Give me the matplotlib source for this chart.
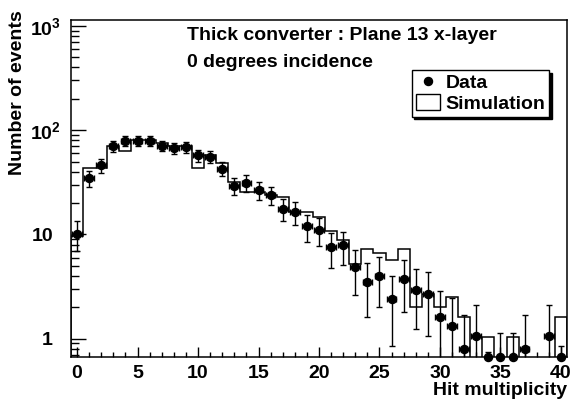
import numpy as np
import matplotlib
matplotlib.use("Agg")
import matplotlib.pyplot as plt
from matplotlib.lines import Line2D
from matplotlib.patches import Rectangle

plt.rcParams['font.family'] = ['Liberation Sans', 'DejaVu Sans']
plt.rcParams['font.weight'] = 'bold'
plt.rcParams['mathtext.fontset'] = 'custom'
plt.rcParams['mathtext.bf'] = 'Liberation Sans:bold'
plt.rcParams['mathtext.rm'] = 'Liberation Sans:bold'

# hit multiplicity bins 0..40
bins = np.arange(0, 41)

# data points (normalised counts); nan = no entry
data = [10.2, 34.5, 46, 70.6, 79, 79, 79, 71, 67.6, 69,
        57.5, 55.4, 42.8, 29.3, 31.3, 26.7, 23.9, 17.7, 16.3, 12.0,
        11.0, 7.55, 7.84, 4.85, 3.48, 4.03, 2.41, 3.75, 2.96, 2.69,
        1.6, 1.33, 0.8, 1.07, 0.25, 0.46, 0.46, 0.8, np.nan, 1.07,
        0.3]
data_err = [3.2, 5.9, 6.8, 8.4, 8.9, 8.9, 8.9, 8.4, 8.2, 8.3,
            7.6, 7.4, 6.5, 5.4, 5.6, 5.2, 4.9, 4.2, 4.0, 3.5,
            3.3, 2.75, 2.8, 2.2, 1.87, 2.0, 1.55, 1.94, 1.72, 1.64,
            1.26, 1.15, 0.89, 1.03, 0.5, 0.68, 0.68, 0.89, np.nan, 1.03,
            0.55]

# simulation histogram contents
sim = [9.6, 43, 43, 70.6, 63, 80, 80, 75, 71, 70,
       43, 58, 48, 31.5, 25.5, 25.5, 24, 23, 16.4, 16.4,
       14.7, 10.9, 8.75, 5.2, 7.3, 6.6, 5.7, 7.3, 2.03, 2.7,
       2.03, 2.5, 1.6, 0, 1.03, 0, 1.03, 0, 0, 0,
       1.6]

title1 = "Thick converter : Plane 13 x-layer"
title2 = "0 degrees incidence"

ymin, ymax = 0.675, 1140

fig = plt.figure(figsize=(5.72, 4.01), dpi=100)
ax = fig.add_axes([71/572, 1-356.5/401, 496/572, 336.5/401])

edges = np.append(bins - 0.5, bins[-1] + 0.5)
ax.stairs(sim, edges, color='black', lw=1.1, baseline=0)

data = np.array(data)
data_err = np.array(data_err)
ax.errorbar(bins, data, yerr=data_err, xerr=0.4, fmt='o', color='black',
            ms=5.8, lw=1.0, capsize=2.5, capthick=1.0, zorder=3)
# points below the axis minimum are drawn on the bottom edge
low = data < ymin
ax.plot(bins[low], np.full(low.sum(), ymin), 'o', color='black', ms=5.8,
        clip_on=False, zorder=4)

ax.set_yscale('log')
ax.set_xlim(-0.5, 40.5)
ax.set_ylim(ymin, ymax)

ax.set_yticks([1, 10, 100, 1000])
ax.set_yticklabels(['1', '10', r'$\mathbf{10^{2}}$', r'$\mathbf{10^{3}}$'])
ax.set_xticks(np.arange(0, 41, 5))
ax.set_xticks(np.arange(0, 41, 1), minor=True)
ax.tick_params(axis='both', which='both', direction='in', right=False, top=False,
               labelsize=14, width=1.0)
ax.tick_params(axis='y', which='major', length=11, pad=13)
ax.tick_params(axis='y', which='minor', length=6)
ax.tick_params(axis='x', which='major', length=7, pad=6)
ax.tick_params(axis='x', which='minor', length=3.5)
# ROOT lets the exponent hang out past the label column
yt = ax.yaxis.get_major_ticks()
yt[2].set_pad(7.5)
yt[3].set_pad(7.5)
for s in ax.spines.values():
    s.set_linewidth(1.1)

fig.text(18/572, 1-10/401, "Number of events", rotation=90, ha='center', va='top',
         fontsize=14, fontweight='bold')
fig.text(567/572, 1-390.7/401, "Hit multiplicity", ha='right', va='center',
         fontsize=14, fontweight='bold')
fig.text(186.7/572, 1-35/401, title1, ha='left', va='center', fontsize=14,
         fontweight='bold')
fig.text(186.7/572, 1-62.7/401, title2, ha='left', va='center', fontsize=14,
         fontweight='bold')

handles = [Line2D([], [], marker='o', color='black', ls='none', ms=5.8),
           Rectangle((0, 0), 1, 1, facecolor='white', edgecolor='black', lw=1.0)]
leg = ax.legend(handles, ['Data', 'Simulation'], loc='upper left',
                bbox_to_anchor=((411.7-71)/496, (356.5-70)/336.5),
                borderaxespad=0, fontsize=14, frameon=True, fancybox=False,
                edgecolor='black', framealpha=1, borderpad=0.2,
                handlelength=1.25, handleheight=0.85, handletextpad=0.3,
                labelspacing=0.1, shadow={'color': 'black', 'alpha': 1})
leg.get_frame().set_linewidth(1.0)

fig.savefig("out.png", dpi=100)
